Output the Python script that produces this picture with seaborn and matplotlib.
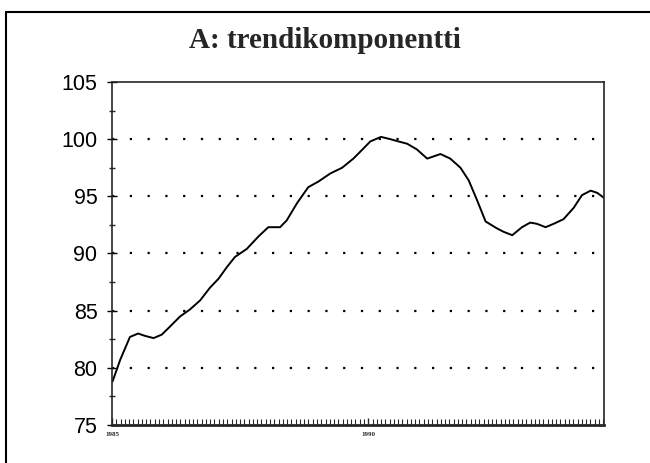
import pandas as pd
import matplotlib.pyplot as plt
import numpy as np
import seaborn as sns
from matplotlib.ticker import MultipleLocator, FixedLocator
from matplotlib.lines import Line2D

# trend component (decimal year, index value)
years = [1985.01, 1985.16, 1985.35, 1985.51, 1985.64, 1985.81, 1985.97, 1986.13,
         1986.33, 1986.52, 1986.72, 1986.91, 1987.08, 1987.24, 1987.40, 1987.63,
         1987.86, 1988.05, 1988.28, 1988.41, 1988.61, 1988.83, 1989.03, 1989.26,
         1989.49, 1989.71, 1989.91, 1990.04, 1990.25, 1990.43, 1990.59, 1990.76,
         1990.95, 1991.15, 1991.41, 1991.60, 1991.80, 1991.96, 1992.12, 1992.29,
         1992.51, 1992.64, 1992.81, 1993.00, 1993.16, 1993.29, 1993.46, 1993.62,
         1993.81, 1994.01, 1994.17, 1994.34, 1994.47, 1994.59]
trend = [78.8, 80.7, 82.7, 83.0, 82.8, 82.6, 82.9, 83.6,
         84.5, 85.1, 85.9, 87.0, 87.8, 88.8, 89.7, 90.4,
         91.5, 92.3, 92.3, 92.9, 94.4, 95.8, 96.3, 97.0,
         97.5, 98.3, 99.2, 99.8, 100.2, 100.0, 99.8, 99.6,
         99.1, 98.3, 98.7, 98.3, 97.5, 96.4, 94.7, 92.8,
         92.2, 91.9, 91.6, 92.3, 92.7, 92.6, 92.3, 92.6,
         93.0, 94.0, 95.1, 95.5, 95.3, 94.9]
grid_levels = [80, 85, 90, 95, 100]
year_labels = [1985, 1990]

df = pd.DataFrame({"year": years, "trend": trend})

sns.set_style("ticks")
plt.rcParams['font.family'] = ['Liberation Sans', 'DejaVu Sans']

fig = plt.figure(figsize=(6.5, 4.63), dpi=100)
ax = fig.add_axes([0.1723, 0.0821, 0.7569, 0.7408])

sns.lineplot(data=df, x="year", y="trend", color="black", linewidth=1.4, ax=ax)

# dotted gridlines
ax.hlines(grid_levels, 1985, 1994.45, colors="black", linestyles=(0, (1, 7)), linewidth=1.6)

ax.set_xlim(1985, 1994.6)
ax.set_ylim(75, 105)
ax.set_xlabel("")
ax.set_ylabel("")

ax.yaxis.set_major_locator(MultipleLocator(5))
ax.yaxis.set_minor_locator(MultipleLocator(2.5))
ax.xaxis.set_major_locator(FixedLocator(year_labels))
ax.xaxis.set_minor_locator(MultipleLocator(1 / 12))

ax.tick_params(axis="y", which="major", direction="inout", length=7, width=1,
               labelsize=15.5, pad=7, colors="black")
ax.tick_params(axis="y", which="minor", direction="inout", length=4, width=1)
ax.tick_params(axis="x", which="major", direction="in", length=5, width=1,
               labelsize=5, pad=5)
ax.tick_params(axis="x", which="minor", direction="in", length=4, width=0.8)
for lab in ax.get_xticklabels():
    lab.set_fontweight("bold")
    lab.set_family(["Liberation Serif", "DejaVu Serif"])

for side in ["top", "right", "left"]:
    ax.spines[side].set_visible(True)
    ax.spines[side].set_linewidth(1.2)
ax.spines["bottom"].set_linewidth(2)

fig.text(0.5, 0.912, "A: trendikomponentti", ha="center", va="center",
         fontsize=21, fontweight="bold", family=["Liberation Serif", "DejaVu Serif"])

# outer frame (top and left edges)
fig.add_artist(Line2D([0.009, 1.0], [0.974, 0.974], color="black", linewidth=1.5,
                      transform=fig.transFigure))
fig.add_artist(Line2D([0.009, 0.009], [0.0, 0.974], color="black", linewidth=1.5,
                      transform=fig.transFigure))

fig.savefig("out.png", dpi=100)
